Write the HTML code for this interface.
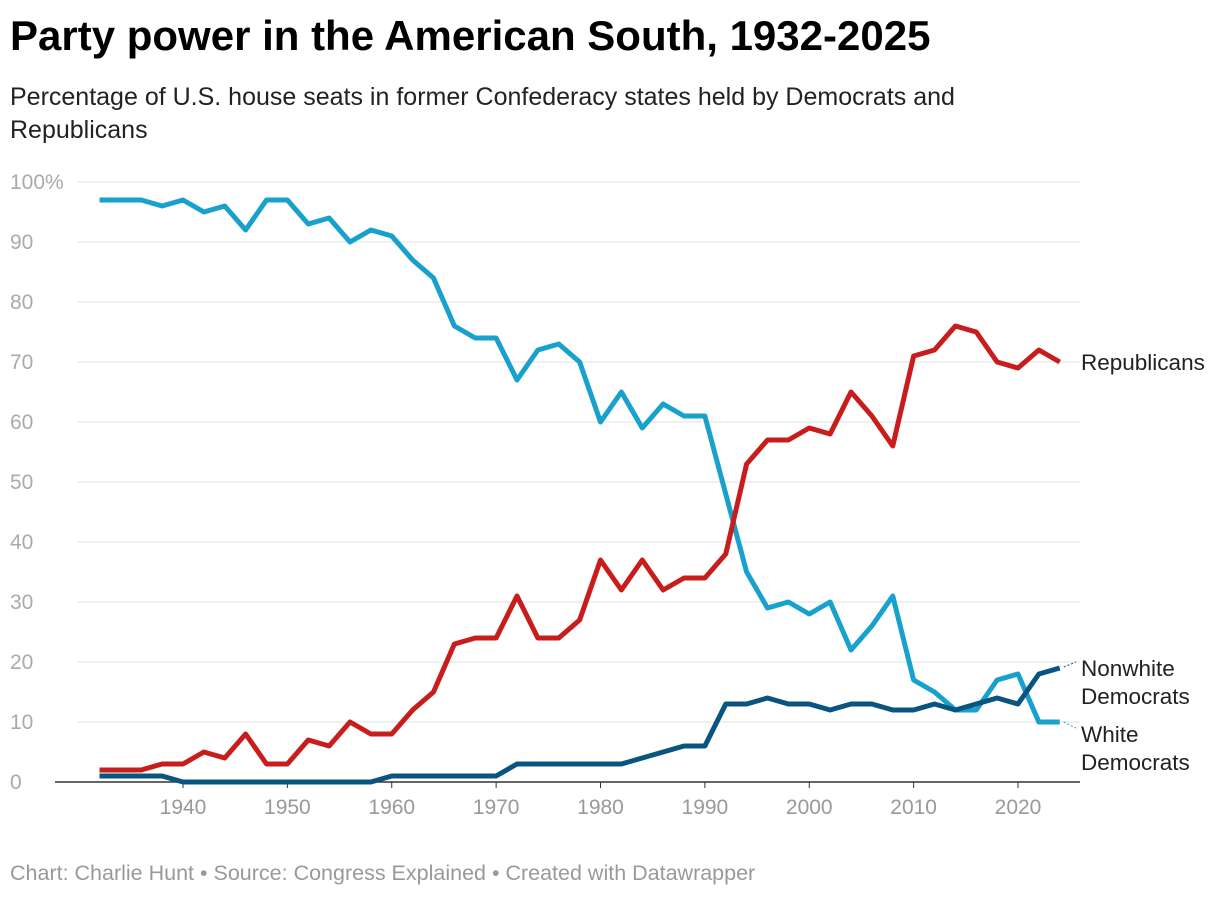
<!DOCTYPE html>
<html><head><meta charset="utf-8"><style>
body{margin:0;background:#fff;width:1220px;height:898px;overflow:hidden;font-family:"Liberation Sans",sans-serif}
#t{position:absolute;left:10px;top:12px;font-size:42px;font-weight:bold;color:#000;margin:0;white-space:nowrap}
#s{position:absolute;left:10px;top:81px;font-size:25px;line-height:33px;color:#222;width:1060px}
#f{position:absolute;left:10px;top:861px;font-size:21.5px;color:#999;white-space:nowrap}
svg{position:absolute;left:0;top:0}
</style></head><body>
<h1 id="t">Party power in the American South, 1932-2025</h1>
<div id="s">Percentage of U.S. house seats in former Confederacy states held by Democrats and Republicans</div>
<div id="f">Chart: Charlie Hunt • Source: Congress Explained • Created with Datawrapper</div>
<svg id="c" width="1220" height="898"></svg>
<script>
const years=[];for(let y=1932;y<=2024;y+=2)years.push(y);
const whiteDem=[97,97,97,96,97,95,96,92,97,97,93,94,90,92,91,87,84,76,74,74,67,72,73,70,60,65,59,63,61,61,48,35,29,30,28,30,22,26,31,17,15,12,12,17,18,10,10];
const republicans=[2,2,2,3,3,5,4,8,3,3,7,6,10,8,8,12,15,23,24,24,31,24,24,27,37,32,37,32,34,34,38,53,57,57,59,58,65,61,56,71,72,76,75,70,69,72,70];
const nonwhiteDem=[1,1,1,1,0,0,0,0,0,0,0,0,0,0,1,1,1,1,1,1,3,3,3,3,3,3,4,5,6,6,13,13,14,13,13,12,13,13,12,12,13,12,13,14,13,18,19];
const yTicks=[0,10,20,30,40,50,60,70,80,90,100];
const xTicks=[1940,1950,1960,1970,1980,1990,2000,2010,2020];
const X=y=>183+(y-1940)*10.4375, Y=v=>782-v*6;
const svg=document.getElementById('c');const NS='http://www.w3.org/2000/svg';
function mk(t,a,txt){const e=document.createElementNS(NS,t);for(const k in a)e.setAttribute(k,a[k]);if(txt!=null)e.textContent=txt;svg.appendChild(e);return e;}
yTicks.forEach(v=>{
 const l=mk('line',{x1:v?78:55,x2:1080,y1:Y(v),y2:Y(v),stroke:v?'#e0e0e0':'#333','stroke-width':v?1:1.5});
 
 
 const t=mk('text',{x:10,y:Y(v)+7,'font-size':21,fill:'#aaa'},v===100?'100%':String(v));
 
 
});
xTicks.forEach(yr=>{
 const l=mk('line',{x1:X(yr),x2:X(yr),y1:782,y2:788,stroke:'#333'});
 
 
 const t=mk('text',{x:X(yr),y:814,'font-size':21,fill:'#999','text-anchor':'middle'},String(yr));
 
 
});
function line(vals,col,name){
 const p=mk('polyline',{points:vals.map((v,i)=>X(years[i])+','+Y(v)).join(' '),fill:'none',stroke:col,'stroke-width':5,'stroke-linejoin':'round'});
 
 
}
line(whiteDem,'#18a1cd','line-white-democrats');
line(republicans,'#c71e1d','line-republicans');
line(nonwhiteDem,'#09557f','line-nonwhite-democrats');
function lab(txt,y,name){const t=mk('text',{x:1081,y:y,'font-size':22.5,fill:'#222'},txt);
 
 }
lab('Republicans',Y(70)+8,'label-republicans');
lab('Nonwhite',Y(19)+8,'label-nonwhite-1');lab('Democrats',Y(19)+36,'label-nonwhite-2');
lab('White',Y(8)+8,'label-white-1');lab('Democrats',Y(8)+36,'label-white-2');
const d1=mk('line',{x1:X(2024)+4,y1:Y(19)-1,x2:1076,y2:Y(20),stroke:'#09557f','stroke-dasharray':'2 2'});

const d2=mk('line',{x1:X(2024)+4,y1:Y(10),x2:1076,y2:Y(9),stroke:'#18a1cd','stroke-dasharray':'2 2'});

</script>
</body></html>
